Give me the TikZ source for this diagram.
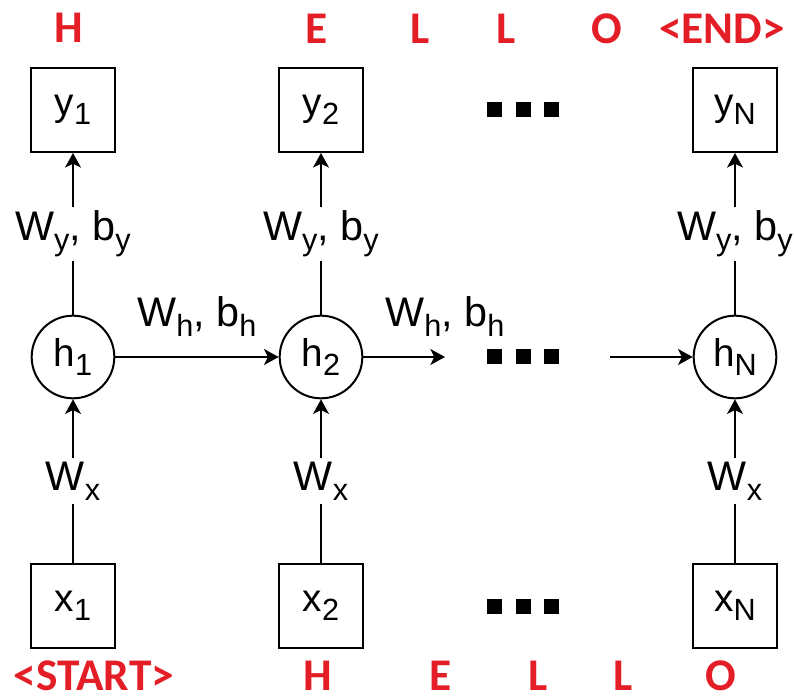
\documentclass[tikz,border=0pt]{standalone}
\usepackage{fontspec}
\setmainfont{Liberation Sans}
\newfontfamily\tokfont{Carlito}
\usetikzlibrary{arrows.meta}
\definecolor{tokred}{RGB}{228,30,38}
% lowered, smaller subscript text
\newcommand\lowsub[1]{\raisebox{-7pt}{\fontsize{23}{23}\selectfont #1}}
\begin{document}
\begin{tikzpicture}[x=0.75pt, y=-0.75pt,
  unit/.style={draw, line width=1.5pt, minimum size=63pt, inner sep=0pt,
    font=\fontsize{29}{29}\selectfont},
  state/.style={circle, draw, line width=1.5pt, minimum size=62pt, inner sep=0pt,
    font=\fontsize{29}{29}\selectfont},
  tok/.style={text=tokred, inner sep=0pt, font=\tokfont\bfseries\fontsize{34}{34}\selectfont},
  wlabel/.style={fill=white, inner sep=3pt, font=\fontsize{31}{31}\selectfont},
  hlabel/.style={inner sep=0pt, font=\fontsize{31}{31}\selectfont},
  link/.style={line width=1.5pt, -{Stealth[length=11pt, width=12pt, inset=3pt]}},
  sq/.style={fill=black, minimum size=11.25pt, inner sep=0pt}]
\useasboundingbox (0,0) rectangle (794,700);

% output units
\node[unit] (y1) at (73,110) {y\lowsub{1}};
\node[unit] (y2) at (321,110) {y\lowsub{2}};
\node[unit] (yN) at (735,110) {y\lowsub{N}};
% hidden states
\node[state] (h1) at (73,357) {h\lowsub{1}};
\node[state] (h2) at (321,357) {h\lowsub{2}};
\node[state] (hN) at (735,357) {h\lowsub{N}};
% input units
\node[unit] (x1) at (73,606) {x\lowsub{1}};
\node[unit] (x2) at (321,606) {x\lowsub{2}};
\node[unit] (xN) at (735,606) {x\lowsub{N}};

% ellipsis squares
\foreach \r/\yy in {top/109.5, mid/356, bot/606} {
  \node[sq] (\r a) at (494.5,\yy) {};
  \node[sq] (\r b) at (523,\yy) {};
  \node[sq] (\r c) at (551.5,\yy) {};
}

% input -> state
\draw[link] (x1) -- node[wlabel] {W\lowsub{x}} (h1);
\draw[link] (x2) -- node[wlabel] {W\lowsub{x}} (h2);
\draw[link] (xN) -- node[wlabel] {W\lowsub{x}} (hN);
% state -> output
\draw[link] (h1) -- node[wlabel] {W\lowsub{y}, b\lowsub{y}} (y1);
\draw[link] (h2) -- node[wlabel] {W\lowsub{y}, b\lowsub{y}} (y2);
\draw[link] (hN) -- node[wlabel] {W\lowsub{y}, b\lowsub{y}} (yN);
% recurrence
\coordinate (hout) at (445,357);
\coordinate (hin) at (610,357);
\draw[link] (h1) -- node[hlabel, above=15pt] {W\lowsub{h}, b\lowsub{h}} (h2);
\draw[link] (h2) -- (hout) node[hlabel, above=15pt] {W\lowsub{h}, b\lowsub{h}};
\draw[link] (hin) -- (hN);

% target characters
\node[tok] (t1) at (69,28) {H};
\node[tok] (t2) at (317,29) {E};
\node[tok] (t3) at (420,29) {L};
\node[tok] (t4) at (506,29) {L};
\node[tok] (t5) at (607,29) {O};
\node[tok] (t6) at (722,29) {<END>};
% input characters
\node[tok] (s1) at (94,676) {<START>};
\node[tok] (s2) at (318,676) {H};
\node[tok] (s3) at (441,676) {E};
\node[tok] (s4) at (538,676) {L};
\node[tok] (s5) at (623,676) {L};
\node[tok] (s6) at (721,676) {O};
\end{tikzpicture}
\end{document}
